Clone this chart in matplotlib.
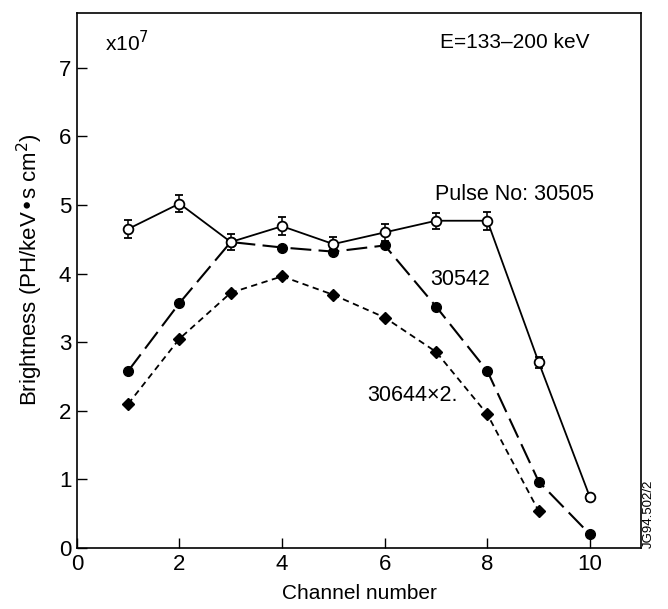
import matplotlib
matplotlib.use("Agg")
import matplotlib.pyplot as plt

channels = [1, 2, 3, 4, 5, 6, 7, 8, 9, 10]
pulse_30505 = [4.65, 5.02, 4.46, 4.69, 4.43, 4.60, 4.77, 4.77, 2.71, 0.74]
err_30505 = [0.13, 0.12, 0.12, 0.13, 0.11, 0.12, 0.12, 0.13, 0.08, 0.05]
channels_30542 = [1, 2, 3, 4, 5, 6, 7, 8, 9, 10]
pulse_30542 = [2.58, 3.57, 4.46, 4.38, 4.32, 4.41, 3.52, 2.58, 0.97, 0.20]
channels_30644 = [1, 2, 3, 4, 5, 6, 7, 8, 9]
pulse_30644 = [2.10, 3.05, 3.72, 3.96, 3.69, 3.36, 2.86, 1.95, 0.54]

xticks = [0, 2, 4, 6, 8, 10]
yticks = [0, 1, 2, 3, 4, 5, 6, 7]

plt.rcParams['font.family'] = ['Liberation Sans', 'DejaVu Sans']

fig = plt.figure(figsize=(6.68, 6.09), dpi=100)
ax = fig.add_axes([0.115, 0.100, 0.845, 0.879])

ax.plot(channels_30644, pulse_30644, color='black', lw=1.3, ls=(0, (3.5, 2.5)),
        marker='D', ms=6, mfc='black', mec='black', zorder=2)
ax.plot(channels_30542, pulse_30542, color='black', lw=1.5, ls=(0, (10, 3.5)),
        marker='o', ms=7, mfc='black', mec='black', zorder=3)
ax.errorbar(channels, pulse_30505, yerr=err_30505, color='black', lw=1.3,
            marker='o', ms=7, mfc='white', mec='black', mew=1.3,
            ecolor='black', elinewidth=1.1, capsize=3, capthick=1.1, zorder=4)

ax.set_xlim(0, 11)
ax.set_ylim(0, 7.8)
ax.set_xticks(xticks)
ax.set_yticks(yticks)
ax.tick_params(direction='in', length=7, width=1, labelsize=16, pad=4)
for s in ax.spines.values():
    s.set_linewidth(1.2)

ax.set_xlabel('Channel number', fontsize=15, labelpad=7)
ax.set_ylabel('Brightness (PH/keV\u2022s cm$^2$)', fontsize=16)
ax.yaxis.set_label_coords(-0.056, 0.52)

ax.text(0.05, 0.944, 'x10$^7$', transform=ax.transAxes, fontsize=15, va='center')
ax.text(0.908, 0.944, 'E=133\u2013200 keV', transform=ax.transAxes, fontsize=15,
        va='center', ha='right')
ax.text(8.53, 5.15, 'Pulse No: 30505', fontsize=15.5, ha='center', va='center')
ax.text(7.48, 3.91, '30542', fontsize=15.5, ha='center', va='center')
ax.text(6.54, 2.23, '30644\u00d72.', fontsize=15.5, ha='center', va='center')

fig.text(0.972, 0.1, 'JG94.502/2', rotation=90, fontsize=9.5, ha='center', va='bottom')

fig.savefig('out.png', dpi=100)
